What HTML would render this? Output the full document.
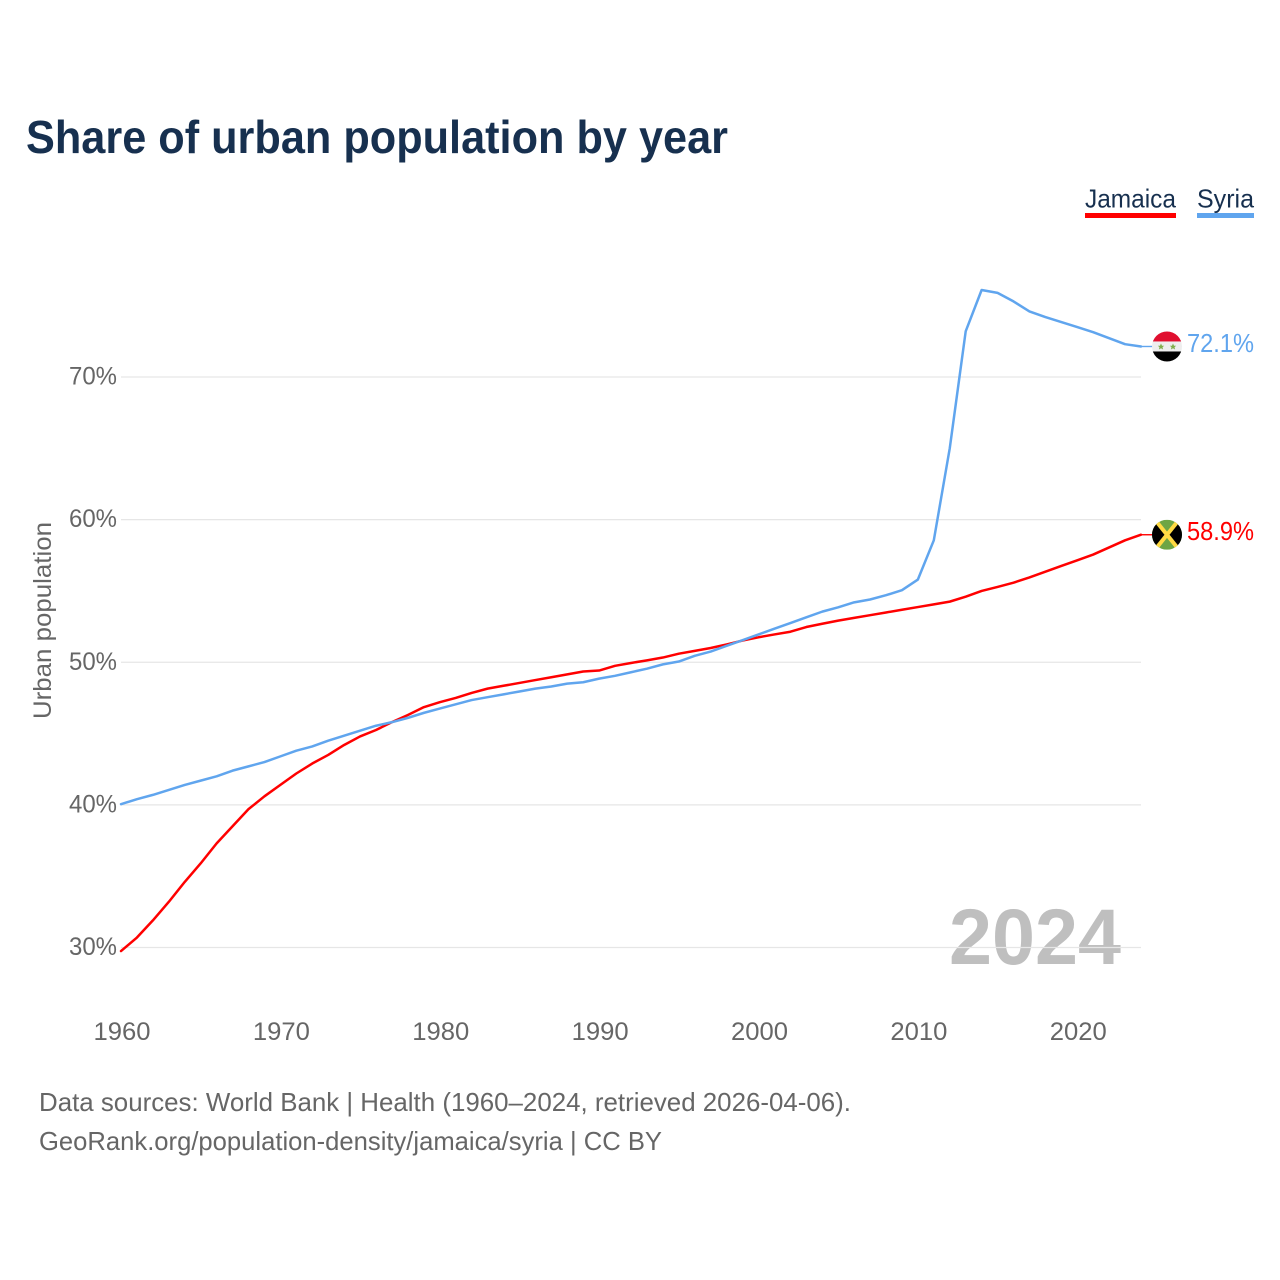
<!DOCTYPE html>
<html lang="en">
<head>
<meta charset="utf-8">
<title>Share of urban population by year</title>
<style>
html,body{margin:0;padding:0;background:#fff;width:1280px;height:1280px;overflow:hidden}
svg{display:block;font-family:"Liberation Sans",sans-serif}
</style>
</head>
<body>
<svg id="chart" xmlns="http://www.w3.org/2000/svg" width="1280" height="1280" viewBox="0 0 1280 1280">
  <defs>
    <clipPath id="flag-clip"><circle cx="0" cy="0" r="15"/></clipPath>
  </defs>
  <rect x="0" y="0" width="1280" height="1280" fill="#fff"/>
  <text x="26" y="153" font-size="46" font-weight="700" fill="#17304f" textLength="702" lengthAdjust="spacingAndGlyphs">Share of urban population by year</text>

  <g>
    <g>
      <text x="1085" y="207.5" font-size="26" fill="#17304f" textLength="91" lengthAdjust="spacingAndGlyphs">Jamaica</text>
      <rect x="1085" y="213" width="91" height="5" fill="#ff0000"/>
    </g>
    <g>
      <text x="1197" y="207.5" font-size="26" fill="#17304f" textLength="57" lengthAdjust="spacingAndGlyphs">Syria</text>
      <rect x="1197" y="213" width="57" height="5" fill="#60a5ee"/>
    </g>
  </g>

  <text x="949" y="964" font-size="79" font-weight="700" fill="#bfbfbf" textLength="172" lengthAdjust="spacingAndGlyphs">2024</text>

  <g id="grid"></g>
  <g id="y-axis"></g>
  <g id="x-axis"></g>
  <text transform="translate(51,620.5) rotate(-90)" text-anchor="middle" font-size="25" fill="#666" textLength="197" lengthAdjust="spacingAndGlyphs">Urban population</text>
  <g id="series"></g>
  <g id="end-markers"></g>

  <text x="39" y="1111" font-size="26" fill="#666" textLength="812" lengthAdjust="spacingAndGlyphs">Data sources: World Bank | Health (1960–2024, retrieved 2026-04-06).</text>
  <text x="39" y="1150" font-size="26" fill="#666" textLength="623" lengthAdjust="spacingAndGlyphs">GeoRank.org/population-density/jamaica/syria | CC BY</text>
</svg>
<script>
const years = [1960,1961,1962,1963,1964,1965,1966,1967,1968,1969,1970,1971,1972,1973,1974,1975,1976,1977,1978,1979,1980,1981,1982,1983,1984,1985,1986,1987,1988,1989,1990,1991,1992,1993,1994,1995,1996,1997,1998,1999,2000,2001,2002,2003,2004,2005,2006,2007,2008,2009,2010,2011,2012,2013,2014,2015,2016,2017,2018,2019,2020,2021,2022,2023,2024];
const jamaicaValues = [29.75,30.7,31.9,33.2,34.6,35.9,37.3,38.5,39.7,40.6,41.4,42.2,42.9,43.5,44.2,44.8,45.25,45.8,46.3,46.85,47.2,47.5,47.85,48.15,48.35,48.55,48.75,48.95,49.15,49.35,49.42,49.75,49.95,50.13,50.33,50.6,50.8,51.0,51.25,51.52,51.75,51.95,52.14,52.47,52.7,52.92,53.11,53.3,53.49,53.68,53.87,54.06,54.25,54.6,55.0,55.28,55.58,55.95,56.35,56.75,57.15,57.55,58.05,58.55,58.94];
const syriaValues = [40.05,40.4,40.7,41.05,41.4,41.7,42.0,42.4,42.7,43.0,43.4,43.8,44.1,44.5,44.85,45.2,45.55,45.8,46.1,46.45,46.75,47.05,47.35,47.55,47.75,47.95,48.15,48.3,48.5,48.6,48.85,49.05,49.3,49.55,49.85,50.05,50.45,50.75,51.15,51.55,51.95,52.35,52.75,53.15,53.55,53.85,54.2,54.4,54.7,55.05,55.8,58.55,65.0,73.2,76.1,75.9,75.3,74.6,74.2,73.85,73.5,73.14,72.72,72.3,72.14];
const yTicks = [30,40,50,60,70];
const xTicks = [1960,1970,1980,1990,2000,2010,2020];

const NS = 'http://www.w3.org/2000/svg';
const xScale = function (year) { return 121 + (year - 1960) * (1141 - 121) / (2024 - 1960); };
const yScale = function (v) { return 947.5 - (v - 30) * (947.5 - 377) / (70 - 30); };

function make(tag, parent, attrs, text) {
  const el = document.createElementNS(NS, tag);
  for (const k in attrs) el.setAttribute(k, attrs[k]);
  if (text !== undefined) el.textContent = text;
  parent.appendChild(el);
  return el;
}

const grid = document.getElementById('grid');
const yAxis = document.getElementById('y-axis');
const xAxis = document.getElementById('x-axis');
const seriesGroup = document.getElementById('series');
const markers = document.getElementById('end-markers');

yTicks.forEach(function (t) {
  const line = make('line', grid, {x1: 121, x2: 1141, y1: yScale(t), y2: yScale(t), stroke: '#e6e6e6', 'stroke-width': 1.2});
  
  
  const label = make('text', yAxis, {x: 69, y: yScale(t) + 7.5, 'font-size': 25, fill: '#666', textLength: 48, lengthAdjust: 'spacingAndGlyphs'}, t + '%');
  
  
});

xTicks.forEach(function (t) {
  const label = make('text', xAxis, {x: xScale(t) - 27.5, y: 1040, 'font-size': 25, fill: '#666', textLength: 57, lengthAdjust: 'spacingAndGlyphs'}, String(t));
  
  
});

function drawSeries(values, color, key) {
  const pts = values.map(function (v, i) { return xScale(years[i]).toFixed(2) + ',' + yScale(v).toFixed(2); }).join(' ');
  const line = make('polyline', seriesGroup, {points: pts, fill: 'none', stroke: color, 'stroke-width': 2.5, 'stroke-linejoin': 'round', 'stroke-linecap': 'round'});
  
  
  const last = values[values.length - 1];
  const lx = xScale(years[years.length - 1]);
  const ly = yScale(last);
  const tail = make('line', seriesGroup, {x1: lx, x2: lx + 12, y1: ly, y2: ly, stroke: color, 'stroke-width': 1.4});
  
  
  return ly;
}

function drawFlag(cy, key, paint) {
  const g = make('g', markers, {transform: 'translate(1167,' + cy + ')', 'clip-path': 'url(#flag-clip)'});
  
  
  paint(g);
}

const jy = drawSeries(jamaicaValues, '#ff0000', 'jamaica');
const sy = drawSeries(syriaValues, '#60a5ee', 'syria');

drawFlag(sy, 'syria', function (g) {
  make('rect', g, {x: -15, y: -15, width: 30, height: 10, fill: '#e00f2f'});
  make('rect', g, {x: -15, y: -5, width: 30, height: 10, fill: '#eeeeee'});
  make('rect', g, {x: -15, y: 5, width: 30, height: 10, fill: '#000'});
  make('polygon', g, {points: '-6,-3 -5,-0.7 -2.8,-0.7 -4.5,0.8 -3.9,3 -6,1.8 -8.1,3 -7.5,0.8 -9.2,-0.7 -7,-0.7', fill: '#7fae4a'});
  make('polygon', g, {points: '6,-3 7,-0.7 9.2,-0.7 7.5,0.8 8.1,3 6,1.8 3.9,3 4.5,0.8 2.8,-0.7 5,-0.7', fill: '#7fae4a'});
});
drawFlag(jy, 'jamaica', function (g) {
  make('rect', g, {x: -15, y: -15, width: 30, height: 30, fill: '#6da544'});
  make('polygon', g, {points: '-15,-15 0,0 -15,15', fill: '#000'});
  make('polygon', g, {points: '15,-15 0,0 15,15', fill: '#000'});
  make('line', g, {x1: -12, y1: -15, x2: 12, y2: 15, stroke: '#ffda44', 'stroke-width': 4});
  make('line', g, {x1: 12, y1: -15, x2: -12, y2: 15, stroke: '#ffda44', 'stroke-width': 4});
});

const syriaLabel = make('text', markers, {x: 1187, y: sy + 5.5, 'font-size': 26, fill: '#60a5ee', textLength: 67, lengthAdjust: 'spacingAndGlyphs'}, syriaValues[syriaValues.length - 1].toFixed(1) + '%');


const jamaicaLabel = make('text', markers, {x: 1187, y: jy + 5.5, 'font-size': 26, fill: '#ff0000', textLength: 67, lengthAdjust: 'spacingAndGlyphs'}, jamaicaValues[jamaicaValues.length - 1].toFixed(1) + '%');


</script>
</body>
</html>
